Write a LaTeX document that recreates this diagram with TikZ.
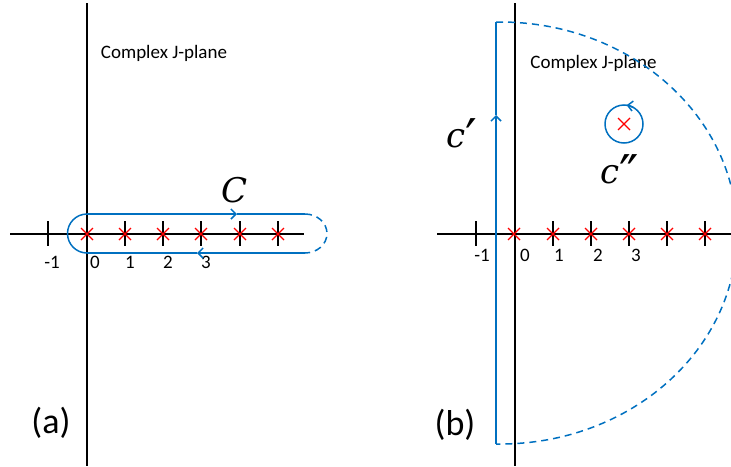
\documentclass[tikz,border=0pt]{standalone}
\usepackage{fontspec}
\setmainfont{Carlito}
\newfontfamily\mfont{DejaVu Serif}
\newcommand\bigprime{\raisebox{-9pt}{\fontsize{52}{52}\selectfont\upshape ′}}
\newcommand\bigdprime{\raisebox{-9pt}{\fontsize{52}{52}\selectfont\upshape ″}}
\usetikzlibrary{arrows.meta}
\definecolor{cblue}{RGB}{0,112,192}
\begin{document}
\begin{tikzpicture}[x=1pt,y=1pt,
  axis/.style={black,line width=1.3pt},
  contour/.style={cblue,line width=1.5pt},
  dashcontour/.style={cblue,line width=1.5pt,dash pattern=on 7pt off 5pt},
  tip/.style={-{Straight Barb[length=5pt,width=10pt]}},
  numlab/.style={inner sep=0pt,font=\fontsize{19}{21}\selectfont},
  plane/.style={inner sep=0pt,font=\fontsize{19}{21}\selectfont},
  panel/.style={inner sep=0pt,font=\fontsize{36}{40}\selectfont},
  mathlab/.style={inner sep=0pt,font=\fontsize{34}{36}\mfont\itshape},
  redx/.pic={\draw[red,line width=1.3pt] (-6,-6) -- (6,6) (-6,6) -- (6,-6);},
  tickm/.pic={\draw[black,line width=1.3pt] (0,12.5) -- (0,-12.5);}
]
\useasboundingbox (0,0) rectangle (731,-466);
\clip (0,0) rectangle (731,-466);
% ---------------- panel (a)
\draw[axis] (87,-3) -- (87,-466);
\draw[axis] (10,-234) -- (304,-234);
\foreach \x in {48,125,163,201,240,278} \pic at (\x,-233.5) {tickm};
\foreach \x in {87,125,163,201,240,278} \pic at (\x,-234) {redx};
\node[numlab] (am1) at (52,-262) {-1};
\node[numlab] (a0) at (95,-262) {0};
\node[numlab] (a1) at (130,-262) {1};
\node[numlab] (a2) at (168,-262) {2};
\node[numlab] (a3) at (206,-262) {3};
\node[plane] (pa) at (164,-53) {Complex J-plane};
\node[panel] (la) at (51,-423) {(a)};
\node[mathlab,anchor=base] (C) at (235,-202) {C};
% contour C
\draw[contour,tip] (87,-214) -- (237,-214);
\draw[contour] (237,-214) -- (305,-214);
\draw[contour] (87,-214) arc[start angle=90,end angle=270,radius=19.5];
\draw[contour,tip] (305,-253) -- (197,-253);
\draw[contour] (197,-253) -- (87,-253);
\draw[dashcontour] (305,-214) arc[start angle=90,end angle=-90,x radius=22,y radius=19.5];
% ---------------- panel (b)
\draw[axis] (515,-3) -- (515,-466);
\draw[axis] (437,-234) -- (731,-234);
\foreach \x in {476,553,591,629,667,705} \pic at (\x,-233.5) {tickm};
\foreach \x in {514,553,591,629,667,705} \pic at (\x,-234) {redx};
\node[numlab] (bm1) at (482,-255) {-1};
\node[numlab] (b0) at (525,-255) {0};
\node[numlab] (b1) at (559,-255) {1};
\node[numlab] (b2) at (598,-255) {2};
\node[numlab] (b3) at (636,-255) {3};
\node[plane] (pb) at (593.5,-63) {Complex J-plane};
\node[panel] (lb) at (455,-425) {(b)};
\node[mathlab,anchor=base west] (c1) at (446,-147) {c\bigprime};
\node[mathlab,anchor=base west] (c2) at (600,-183) {c\bigdprime};
% contour c'
\draw[contour,tip] (496,-444) -- (496,-115);
\draw[contour] (496,-115) -- (496,-22);
\draw[dashcontour] (496,-22) -- (500,-22) arc[start angle=90,end angle=-90,x radius=237,y radius=211] -- (496,-444);
% contour c''
\draw[contour] (624,-124) circle[radius=19];
\draw[contour,tip] (624,-124) ++(60:19) arc[start angle=60,end angle=82,radius=19];
\pic at (624,-124) {redx};
\end{tikzpicture}
\end{document}
